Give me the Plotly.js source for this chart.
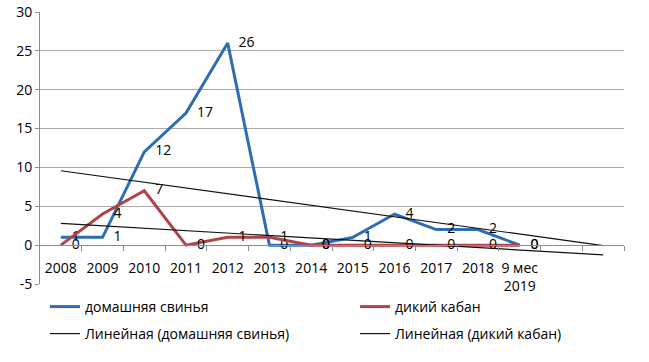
<!DOCTYPE html>
<html>
<head>
<meta charset="utf-8">
<script src="https://cdn.plot.ly/plotly-3.0.1.min.js"></script>
<style>html,body{margin:0;padding:0;background:#fff;}#chart{width:649px;height:362px;}</style>
</head>
<body>
<div id="chart"></div>
<script>
// Categories (x axis labels)
const periods = ["2008","2009","2010","2011","2012","2013","2014","2015","2016","2017","2018","9 мес<br>2019"];
// Series values
const domesticPig = [1,1,12,17,26,0,0,1,4,2,2,0];
const wildBoar = [0,4,7,0,1,1,0,0,0,0,0,0];
// Series names
const pigName = "домашняя свинья";
const boarName = "дикий кабан";
const pigTrendName = "Линейная (домашняя свинья)";
const boarTrendName = "Линейная (дикий кабан)";
// Trendline forecast forward (periods)
const forecastForward = 2;
// Y axis ticks
const yTicks = [-5,0,5,10,15,20,25,30];
const yTickLabels = ["-5","0","5","10","15","20","25","30"];

const n = periods.length;
const xIdx = periods.map((_, i) => i + 1);
const totalCats = n + forecastForward;

function linearTrend(ys) {
  const xs = ys.map((_, i) => i + 1);
  const m = xs.length;
  const mx = xs.reduce((a, b) => a + b, 0) / m;
  const my = ys.reduce((a, b) => a + b, 0) / m;
  let sxy = 0, sxx = 0;
  for (let i = 0; i < m; i++) { sxy += (xs[i] - mx) * (ys[i] - my); sxx += (xs[i] - mx) ** 2; }
  const slope = sxy / sxx, icpt = my - slope * mx;
  const tx = [];
  for (let k = 1; k <= totalCats; k++) tx.push(k);
  return { x: tx, y: tx.map(v => icpt + slope * v) };
}

const pigTrend = linearTrend(domesticPig);
const boarTrend = linearTrend(wildBoar);

const FONT = "Open Sans, Liberation Sans, Arial, sans-serif";
const blue = "#2E6DB4";
const red = "#B0424A";

const boundaries = [];
for (let k = 1; k <= totalCats; k++) boundaries.push(k + 0.5);

const traces = [
  { x: xIdx, y: domesticPig, name: pigName, type: "scatter", mode: "lines+text",
    line: { color: blue, width: 3 }, text: domesticPig.map(String), textposition: "middle right",
    texttemplate: "   %{text}",
    textfont: { family: FONT, size: 14, color: "#000" }, legend: "legend", cliponaxis: false },
  { x: xIdx, y: wildBoar, name: boarName, type: "scatter", mode: "lines+text",
    line: { color: red, width: 3 }, text: wildBoar.map(String), textposition: "middle right",
    texttemplate: "   %{text}",
    textfont: { family: FONT, size: 14, color: "#000" }, legend: "legend2", cliponaxis: false },
  { x: pigTrend.x, y: pigTrend.y, name: pigTrendName, type: "scatter", mode: "lines",
    line: { color: "#111", width: 1.2 }, legend: "legend3" },
  { x: boarTrend.x, y: boarTrend.y, name: boarTrendName, type: "scatter", mode: "lines",
    line: { color: "#111", width: 1.2 }, legend: "legend4" },
  // invisible helper for tick-mark axis at category boundaries
  { x: [0.5, totalCats + 0.5], y: [0, 0], xaxis: "x2", yaxis: "y", mode: "lines",
    line: { width: 0 }, showlegend: false, hoverinfo: "skip" }
];

const zeroPos = (0 - yTicks[0]) / (yTicks[yTicks.length - 1] - yTicks[0]);

function legendAt(px, py) {
  return {
    orientation: "h", xref: "container", yref: "container",
    x: px / 649, y: 1 - py / 362,
    xanchor: "left", yanchor: "middle",
    font: { family: FONT, size: 14, color: "#000" }, bgcolor: "rgba(0,0,0,0)", itemwidth: 30
  };
}

const layout = {
  width: 649, height: 362,
  margin: { l: 40, r: 25, t: 12, b: 78 },
  paper_bgcolor: "#fff", plot_bgcolor: "#fff",
  font: { family: FONT, size: 14, color: "#000" },
  showlegend: true,
  xaxis: {
    range: [0.5, totalCats + 0.5], anchor: "free", position: zeroPos, automargin: false,
    tickmode: "array", tickvals: xIdx, ticktext: periods,
    ticks: "", showline: false, showgrid: false, zeroline: false,
    tickfont: { family: FONT, size: 14, color: "#000" }, ticklabelstandoff: 13
  },
  xaxis2: {
    range: [0.5, totalCats + 0.5], overlaying: "x", anchor: "free", position: zeroPos, automargin: false,
    tickmode: "array", tickvals: boundaries, showticklabels: false,
    ticks: "outside", ticklen: 5, tickcolor: "#8C8C8C", tickwidth: 1,
    showline: true, linecolor: "#8C8C8C", linewidth: 1, showgrid: false, zeroline: false
  },
  yaxis: {
    range: [yTicks[0], yTicks[yTicks.length - 1]], tickmode: "array", tickvals: yTicks, ticktext: yTickLabels, automargin: false,
    ticks: "outside", ticklen: 4, tickcolor: "#8C8C8C",
    showline: true, linecolor: "#8C8C8C", linewidth: 1,
    showgrid: true, gridcolor: "#ABABAB", gridwidth: 1, zeroline: false,
    tickfont: { family: FONT, size: 14, color: "#000" }
  },
  legend: legendAt(45, 307),
  legend2: legendAt(355, 307),
  legend3: legendAt(45, 334),
  legend4: legendAt(355, 334)
};

Plotly.newPlot("chart", traces, layout, { displayModeBar: false, staticPlot: true });
</script>
</body>
</html>
